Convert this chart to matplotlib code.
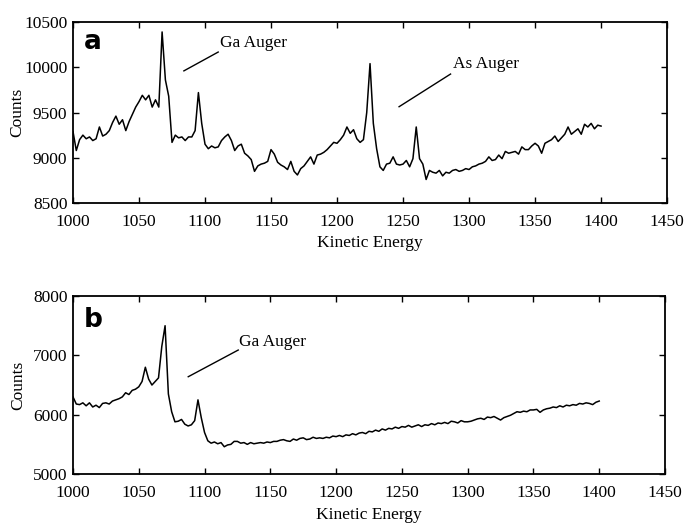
import numpy as np
import matplotlib
matplotlib.use('Agg')
import matplotlib.pyplot as plt

plt.rcParams['font.family'] = ['Liberation Serif', 'DejaVu Serif']

# kinetic energy grid (eV), 2.5 eV steps
energy = np.arange(1000, 1400.1, 2.5)

# panel a counts
counts_a = [
    9290, 9080, 9200, 9250, 9210, 9230, 9190, 9210,
    9340, 9240, 9260, 9300, 9390, 9460, 9370, 9420,
    9300, 9400, 9480, 9560, 9620, 9690, 9640, 9690,
    9560, 9640, 9560, 10390, 9860, 9680, 9170, 9250,
    9220, 9230, 9190, 9230, 9230, 9300, 9720, 9380,
    9150, 9100, 9130, 9110, 9120, 9190, 9230, 9260,
    9190, 9080, 9130, 9150, 9050, 9020, 8980, 8850,
    8910, 8930, 8940, 8960, 9090, 9040, 8950, 8920,
    8900, 8870, 8960, 8850, 8810, 8880, 8910, 8960,
    9010, 8930, 9030, 9040, 9060, 9090, 9130, 9170,
    9160, 9200, 9250, 9340, 9270, 9310, 9210, 9170,
    9200, 9500, 10040, 9380, 9100, 8900, 8860, 8930,
    8940, 9010, 8930, 8920, 8930, 8970, 8900, 8990,
    9340, 8990, 8930, 8760, 8860, 8840, 8830, 8860,
    8800, 8840, 8830, 8860, 8870, 8850, 8860, 8880,
    8870, 8900, 8910, 8930, 8940, 8960, 9010, 8970,
    8980, 9030, 8990, 9070, 9050, 9060, 9070, 9040,
    9120, 9090, 9090, 9130, 9160, 9130, 9050, 9160,
    9180, 9200, 9240, 9180, 9220, 9260, 9340, 9260,
    9290, 9320, 9260, 9370, 9340, 9380, 9320, 9360,
    9350,
]

# panel b counts
counts_b = [
    6300, 6180, 6170, 6200, 6150, 6200, 6130, 6160,
    6120, 6190, 6200, 6180, 6230, 6250, 6270, 6300,
    6370, 6340, 6410, 6430, 6470, 6560, 6800, 6600,
    6500, 6560, 6620, 7150, 7500, 6350, 6050, 5880,
    5890, 5920, 5840, 5810, 5830, 5900, 6250, 5950,
    5700, 5560, 5520, 5540, 5510, 5530, 5460, 5490,
    5500, 5550, 5550, 5520, 5530, 5500, 5530, 5510,
    5520, 5530, 5520, 5540, 5530, 5550, 5550, 5570,
    5580, 5560, 5550, 5590, 5570, 5600, 5610, 5580,
    5590, 5620, 5600, 5610, 5600, 5620, 5610, 5640,
    5630, 5650, 5630, 5660, 5650, 5680, 5660, 5690,
    5700, 5680, 5720, 5710, 5740, 5720, 5760, 5740,
    5770, 5760, 5790, 5770, 5800, 5790, 5820, 5790,
    5810, 5830, 5800, 5830, 5820, 5850, 5830, 5860,
    5850, 5870, 5850, 5890, 5880, 5860, 5900, 5880,
    5880, 5890, 5910, 5930, 5940, 5920, 5960, 5950,
    5970, 5940, 5910, 5950, 5970, 5990, 6020, 6050,
    6040, 6060, 6050, 6080, 6080, 6090, 6040, 6080,
    6100, 6110, 6130, 6120, 6150, 6130, 6160, 6150,
    6170, 6160, 6190, 6180, 6200, 6190, 6170, 6210,
    6230,
]

xticks = [1000, 1050, 1100, 1150, 1200, 1250, 1300, 1350, 1400, 1450]
yticks_a = [8500, 9000, 9500, 10000, 10500]
yticks_b = [5000, 6000, 7000, 8000]


def styleAx(ax, yticks, xlab_y):
    ax.set_xlim(1000, 1450)
    ax.set_ylim(yticks[0], yticks[-1])
    ax.set_xticks(xticks)
    ax.set_yticks(yticks)
    ax.tick_params(direction='in', length=4, width=1, top=True, right=True,
                   labelsize=12.5)
    ax.tick_params(axis='x', pad=8)
    ax.tick_params(axis='y', pad=4)
    for s in ax.spines.values():
        s.set_linewidth(1.3)
    ax.set_xlabel('Kinetic Energy', fontsize=12.5, va='center')
    ax.xaxis.set_label_coords(0.5, xlab_y)
    ax.set_ylabel('Counts', fontsize=12.5, va='center')
    ax.yaxis.set_label_coords(-0.093, 0.5)


fig = plt.figure(figsize=(6.86, 5.25), dpi=100)

ax1 = fig.add_axes([0.1064, 0.6133, 0.866, 0.3448])
ax1.plot(energy, counts_a, color='black', lw=1.1)
styleAx(ax1, yticks_a, -0.221)
ax1.text(0.034, 0.89, 'a', transform=ax1.transAxes, fontsize=19,
         fontweight='bold', family='DejaVu Sans', ha='center', va='center')
ax1.plot([1084, 1110], [9960, 10168], color='black', lw=1)
ax1.text(1111, 10268, 'Ga Auger', fontsize=12.5, va='center', ha='left')
ax1.plot([1247, 1286], [9564, 9925], color='black', lw=1)
ax1.text(1288, 10036, 'As Auger', fontsize=12.5, va='center', ha='left')

ax2 = fig.add_axes([0.1064, 0.0971, 0.863, 0.339])
ax2.plot(energy, counts_b, color='black', lw=1.1)
styleAx(ax2, yticks_b, -0.23)
ax2.text(0.034, 0.865, 'b', transform=ax2.transAxes, fontsize=19,
         fontweight='bold', family='DejaVu Sans', ha='center', va='center')
ax2.plot([1087.6, 1125.6], [6640, 7090], color='black', lw=1)
ax2.text(1126, 7225, 'Ga Auger', fontsize=12.5, va='center', ha='left')

fig.savefig('out.png', dpi=100)
